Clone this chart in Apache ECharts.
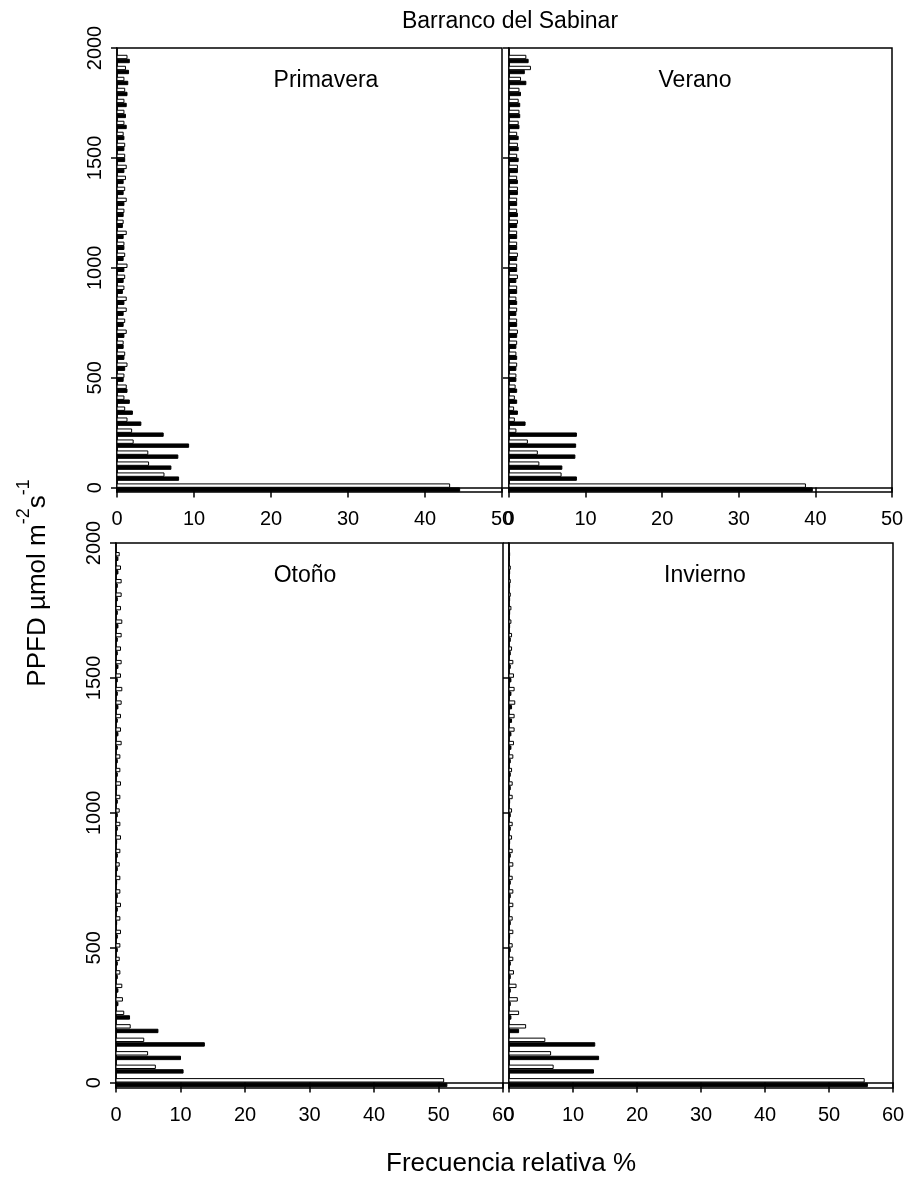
<!DOCTYPE html>
<html lang="es">
<head>
  <meta charset="UTF-8">
  <title>Barranco del Sabinar</title>
  <script src="https://cdn.jsdelivr.net/npm/echarts@6.0.0/dist/echarts.min.js"></script>
  <style>
    body { margin: 0; background: #fff; }
    #chart { width: 909px; height: 1199px; }
  </style>
</head>
<body>
  <div id="chart"></div>
  <script>
    // clases de PPFD (límite inferior de cada intervalo, µmol m-2 s-1)
    const bins = [0, 50, 100, 150, 200, 250, 300, 350, 400, 450,
                  500, 550, 600, 650, 700, 750, 800, 850, 900, 950,
                  1000, 1050, 1100, 1150, 1200, 1250, 1300, 1350, 1400, 1450,
                  1500, 1550, 1600, 1650, 1700, 1750, 1800, 1850, 1900, 1950];
    const ppfdTicks = [0, 500, 1000, 1500, 2000];

    // frecuencia relativa (%): A = barra clara (arriba), B = barra negra (abajo)
    const primaveraA = [43.2, 6.1, 4.1, 4.0, 2.1, 1.9, 1.3, 1.0, 0.9, 1.2,
                        0.9, 1.3, 1.0, 0.8, 1.2, 1.0, 1.2, 1.2, 0.9, 1.0,
                        1.3, 1.0, 0.9, 1.2, 0.8, 0.9, 1.2, 1.0, 1.1, 1.2,
                        1.0, 1.0, 0.8, 0.9, 0.9, 0.9, 1.0, 0.9, 1.1, 1.3];
    const primaveraB = [44.5, 8.0, 7.0, 7.9, 9.3, 6.0, 3.1, 2.0, 1.6, 1.3,
                        0.8, 1.0, 0.9, 0.8, 0.9, 0.8, 0.8, 0.9, 0.7, 0.8,
                        0.9, 0.8, 0.9, 0.8, 0.7, 0.8, 0.9, 0.8, 0.8, 0.9,
                        1.0, 0.9, 0.9, 1.2, 1.1, 1.2, 1.3, 1.4, 1.5, 1.6];
    const veranoA = [38.7, 6.8, 3.9, 3.7, 2.4, 0.9, 0.7, 0.6, 0.7, 0.8,
                     0.9, 1.0, 0.9, 1.0, 1.1, 1.0, 1.0, 0.9, 1.0, 1.1,
                     1.0, 1.1, 1.0, 1.0, 1.1, 1.0, 1.0, 1.1, 1.0, 1.1,
                     1.0, 1.1, 1.0, 1.2, 1.3, 1.2, 1.3, 1.5, 2.8, 2.2];
    const veranoB = [39.6, 8.8, 6.9, 8.6, 8.7, 8.8, 2.1, 1.1, 1.0, 1.0,
                     0.9, 0.9, 1.0, 0.9, 1.0, 1.0, 0.9, 1.0, 1.0, 0.9,
                     1.0, 1.0, 1.0, 1.0, 1.0, 1.1, 1.0, 1.1, 1.1, 1.1,
                     1.2, 1.2, 1.2, 1.3, 1.4, 1.4, 1.5, 2.2, 2.0, 2.5];
    const otonoA = [50.8, 6.1, 4.9, 4.3, 2.2, 1.2, 1.0, 0.9, 0.6, 0.5,
                    0.6, 0.7, 0.6, 0.7, 0.6, 0.6, 0.5, 0.6, 0.7, 0.6,
                    0.5, 0.6, 0.7, 0.6, 0.6, 0.8, 0.7, 0.7, 0.8, 0.9,
                    0.7, 0.8, 0.7, 0.8, 0.9, 0.7, 0.8, 0.8, 0.7, 0.5];
    const otonoB = [51.3, 10.4, 10.0, 13.7, 6.5, 2.1, 0.3, 0.3, 0.2, 0.2,
                    0.2, 0.2, 0.1, 0.2, 0.2, 0.1, 0.2, 0.2, 0.1, 0.2,
                    0.2, 0.2, 0.1, 0.2, 0.2, 0.2, 0.3, 0.2, 0.3, 0.2,
                    0.2, 0.3, 0.2, 0.2, 0.3, 0.2, 0.2, 0.2, 0.3, 0.3];
    const inviernoA = [55.5, 6.9, 6.5, 5.6, 2.6, 1.5, 1.3, 1.1, 0.7, 0.6,
                       0.5, 0.6, 0.5, 0.6, 0.6, 0.5, 0.6, 0.5, 0.4, 0.5,
                       0.4, 0.5, 0.5, 0.4, 0.6, 0.7, 0.8, 0.8, 0.9, 0.8,
                       0.7, 0.6, 0.4, 0.4, 0.3, 0.3, 0.2, 0.2, 0.2, 0.1];
    const inviernoB = [56.0, 13.2, 14.0, 13.4, 1.5, 0.3, 0.2, 0.2, 0.2, 0.2,
                       0.2, 0.1, 0.2, 0.1, 0.2, 0.2, 0.1, 0.2, 0.1, 0.2,
                       0.2, 0.1, 0.2, 0.2, 0.2, 0.3, 0.3, 0.4, 0.4, 0.3,
                       0.3, 0.2, 0.2, 0.2, 0.1, 0.1, 0.1, 0.1, 0.1, 0.0];

    const font = 'Liberation Sans, Arial, sans-serif';
    const chart = echarts.init(document.getElementById('chart'));

    // rejilla de cada panel
    const grids = [
      { left: 117, top: 48, width: 385, height: 444 },
      { left: 509, top: 48, width: 383, height: 444 },
      { left: 116, top: 543, width: 387, height: 545 },
      { left: 509, top: 543, width: 384, height: 545 }
    ];
    const xMax = [50, 50, 60, 60];
    const panels = [
      [primaveraA, primaveraB], [veranoA, veranoB],
      [otonoA, otonoB], [inviernoA, inviernoB]
    ];

    function pairs(vals) {
      return bins.map((b, i) => [vals[i], b]);
    }

    // barra horizontal dibujada con la escala de los ejes
    function barRenderer(offset, fill) {
      return function (params, api) {
        const v = api.value(0), y = api.value(1);
        const p0 = api.coord([0, y]);
        const p1 = api.coord([v, y]);
        const h = 3.4;
        return {
          type: 'rect',
          shape: { x: p0[0], y: p0[1] + offset - h / 2, width: p1[0] - p0[0], height: h },
          style: { fill: fill, stroke: '#000', lineWidth: 1 }
        };
      };
    }

    const xAxis = [], yAxis = [], series = [];
    grids.forEach((g, i) => {
      xAxis.push({
        gridIndex: i, type: 'value', min: 0, max: xMax[i], interval: 10,
        axisLine: { lineStyle: { color: '#000', width: 1.5 } },
        axisTick: { length: 10, lineStyle: { color: '#000', width: 1.5 } },
        axisLabel: { color: '#000', fontSize: 20, fontFamily: font, margin: 17 },
        splitLine: { show: false }
      });
      yAxis.push({
        gridIndex: i, type: 'value', min: -20, max: 2000,
        axisLine: { lineStyle: { color: '#000', width: 1.5 } },
        axisTick: { length: 6, customValues: ppfdTicks, lineStyle: { color: '#000', width: 1.5 } },
        axisLabel: {
          show: i % 2 === 0, customValues: ppfdTicks, rotate: 90,
          formatter: v => String(v),
          color: '#000', fontSize: 20, fontFamily: font, margin: 12
        },
        splitLine: { show: false }
      });
      const off = i < 2 ? 2.0 : 2.3;
      series.push({
        type: 'custom', xAxisIndex: i, yAxisIndex: i,
        data: pairs(panels[i][0]), renderItem: barRenderer(-off, '#fff'),
        encode: { x: 0, y: 1 }, clip: true
      });
      series.push({
        type: 'custom', xAxisIndex: i, yAxisIndex: i,
        data: pairs(panels[i][1]), renderItem: barRenderer(off, '#000'),
        encode: { x: 0, y: 1 }, clip: true
      });
    });

    const titleStyle = { color: '#000', fontSize: 23, fontWeight: 'normal', fontFamily: font };
    const option = {
      animation: false,
      backgroundColor: '#fff',
      title: [
        { text: 'Barranco del Sabinar', left: 505, top: 5, textAlign: 'center', textStyle: titleStyle },
        { text: 'Primavera', left: 321, top: 64, textAlign: 'center', textStyle: titleStyle },
        { text: 'Verano', left: 690, top: 64, textAlign: 'center', textStyle: titleStyle },
        { text: 'Otoño', left: 300, top: 559, textAlign: 'center', textStyle: titleStyle },
        { text: 'Invierno', left: 700, top: 559, textAlign: 'center', textStyle: titleStyle },
        { text: 'Frecuencia relativa %', left: 506, top: 1146,
          textAlign: 'center', textStyle: Object.assign({}, titleStyle, { fontSize: 26 }) }
      ],
      grid: grids.map(g => Object.assign({ show: true, borderColor: '#000', borderWidth: 1.5, backgroundColor: 'transparent' }, g)),
      xAxis: xAxis,
      yAxis: yAxis,
      series: series,
      graphic: [{
        type: 'text', x: 33, y: 583, rotation: Math.PI / 2,
        style: {
          text: '{a|PPFD µmol m}{s|-2}{a|s}{s|-1}',
          align: 'center', verticalAlign: 'middle',
          rich: {
            a: { fontSize: 26, fontFamily: font, fill: '#000', lineHeight: 36, verticalAlign: 'bottom' },
            s: { fontSize: 18, fontFamily: font, fill: '#000', lineHeight: 36, verticalAlign: 'top' }
          }
        }
      }]
    };
    chart.setOption(option);
  </script>
</body>
</html>
